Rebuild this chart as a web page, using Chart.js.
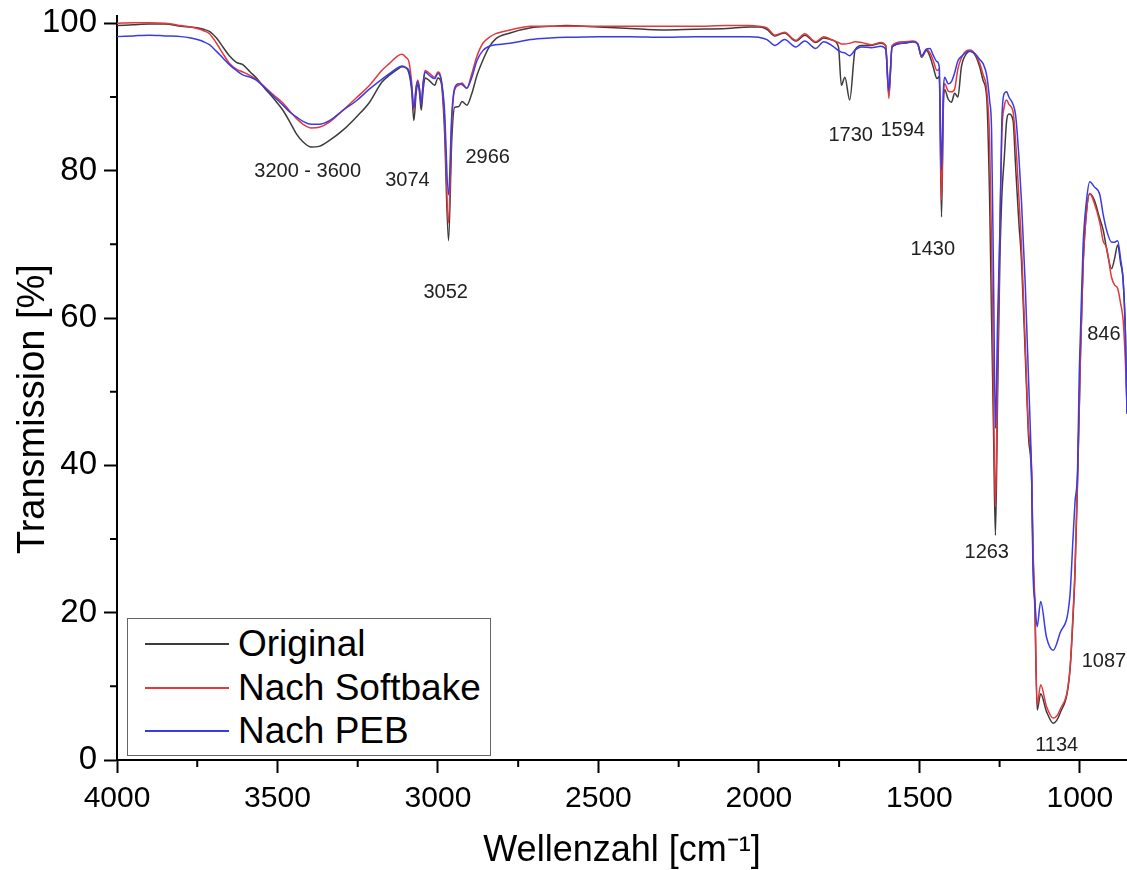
<!DOCTYPE html>
<html>
<head>
<meta charset="utf-8">
<script src="https://cdn.jsdelivr.net/npm/chart.js@4"></script>
<style>
html,body{margin:0;padding:0;background:#fff;}
#wrap{position:relative;width:1127px;height:870px;overflow:hidden;}
#legend{position:absolute;left:127px;top:618px;width:364px;height:138px;border:1px solid #666;box-sizing:border-box;background:#fff;font-family:'Liberation Sans',Arial,sans-serif;font-size:37px;color:#000;}
.lrow{position:absolute;left:0;width:100%;height:40px;}
.lline{position:absolute;left:17px;width:84px;top:19px;height:2px;}
.ltext{position:absolute;left:110px;top:0;line-height:40px;white-space:nowrap;}
</style>
</head>
<body>
<div id="wrap">
<canvas id="c" width="1127" height="870"></canvas>
<div id="legend"></div>
</div>
<script>
// ---- data (wavenumber grid, transmission in %) ----
const wavenumbers = [4000,3950,3900,3850,3800,3770,3750,3730,3712,3690,3670,3650,3628,3608,3585,3566,3540,3510,3483,3460,3441,3420,3395,3370,3338,3296,3254,3213,3175,3150,3125,3112,3100,3090,3082,3075,3068,3063,3058,3052,3046,3040,3026,3010,3000,2990,2980,2967,2957,2948,2935,2925,2910,2895,2878,2860,2840,2820,2775,2710,2650,2600,2500,2400,2300,2200,2100,2030,2000,1975,1950,1920,1885,1857,1823,1798,1770,1752,1743,1732,1717,1700,1680,1650,1620,1605,1595,1585,1550,1520,1505,1493,1478,1467,1457,1445,1438,1431,1425,1421,1410,1400,1390,1380,1369,1353,1342,1325,1312,1301,1290,1281,1275,1269,1263,1256,1249,1243,1235,1228,1221,1208,1200,1190,1182,1170,1160,1150,1146,1140,1133,1122,1104,1083,1062,1031,1021,1015,1007,1002,998,990,979,969,955,938,927,917,901,892,882,873,865,858,853];
const original = [99.7,99.8,99.9,99.9,99.6,99.5,99.4,99.2,98.9,98.0,96.8,95.6,94.7,94.4,93.4,92.6,91.2,89.7,88.2,86.5,85.0,83.9,83.2,83.3,84.1,85.5,87.3,89.3,92.0,93.0,93.8,94.1,94.0,93.2,91.0,86.8,90.5,91.7,90.8,88.2,91.0,92.6,92.2,91.6,92.6,92.0,86.0,70.5,84.1,88.6,88.7,89.4,88.9,90.4,93.0,95.0,96.8,97.9,98.7,99.4,99.6,99.7,99.5,99.3,99.1,99.2,99.3,99.5,99.5,99.2,98.3,98.7,97.6,98.4,97.4,98.0,97.7,96.8,91.6,92.7,89.6,96.4,97.0,97.0,97.3,97.0,90.3,96.8,97.3,97.5,97.2,95.4,96.3,95.5,94.1,92.5,92.8,73.7,89.0,91.0,89.7,89.3,90.5,90.0,94.1,95.9,96.2,95.6,94.1,92.2,89.8,76.0,60.0,45.0,30.5,50.0,68.0,76.5,82.0,86.8,87.7,86.8,80.5,73.0,68.0,55.0,44.0,38.0,28.0,20.5,6.8,9.0,6.6,5.0,6.3,12.0,19.5,25.5,38.0,47.0,55.0,67.0,74.5,76.9,76.0,73.5,71.9,69.5,66.7,68.0,69.9,67.5,65.1,58.0,47.0];
const softbake = [100.0,100.1,100.1,100.0,99.7,99.5,99.3,99.0,98.6,97.3,95.9,94.6,93.8,93.4,92.9,92.4,91.4,90.2,89.2,88.0,87.1,86.3,85.8,85.9,86.6,88.2,89.9,91.6,93.6,94.6,95.6,95.8,95.4,94.7,92.0,88.2,91.3,92.3,91.3,89.1,92.0,93.6,93.2,92.7,93.4,92.4,87.5,72.9,86.5,91.0,91.6,91.9,91.2,93.1,95.6,97.3,98.1,98.6,99.1,99.6,99.6,99.6,99.6,99.6,99.6,99.6,99.7,99.7,99.6,99.4,98.4,98.8,97.7,98.6,97.5,98.2,97.7,97.4,97.2,97.2,97.3,97.5,97.4,97.1,97.4,97.0,89.8,97.0,97.5,97.6,97.2,95.5,96.5,96.0,95.0,93.6,93.8,76.0,90.0,91.8,90.8,90.7,91.1,93.8,95.3,96.3,96.4,95.8,94.6,93.0,90.9,84.0,70.0,50.0,34.4,54.0,72.0,85.0,88.8,89.6,89.0,88.0,84.0,76.5,70.0,56.5,45.0,39.3,29.0,21.3,7.5,10.2,7.3,5.7,6.8,12.2,20.0,25.8,38.5,47.5,55.0,67.0,74.5,76.9,75.6,73.0,70.4,69.6,65.5,64.5,64.0,62.0,59.7,54.0,48.0];
const peb = [98.2,98.3,98.4,98.3,98.2,98.0,97.8,97.5,97.1,96.2,95.3,94.4,93.6,93.0,92.7,92.3,91.3,90.0,88.9,87.9,87.3,86.7,86.3,86.3,86.8,88.2,89.5,91.1,92.4,93.2,94.0,94.2,94.0,93.5,91.5,88.5,91.3,92.1,91.2,89.1,91.8,93.4,92.9,92.5,93.2,92.4,88.5,76.7,87.5,91.2,91.8,91.7,91.2,92.6,95.0,96.3,96.9,97.1,97.3,97.8,98.0,98.1,98.2,98.2,98.1,98.2,98.2,98.2,98.1,97.8,97.0,97.8,96.8,97.6,96.6,97.5,96.9,96.3,96.1,96.0,95.6,96.4,96.8,96.7,96.9,96.5,90.9,96.8,97.3,97.5,97.2,95.6,96.5,96.6,95.7,94.8,94.1,80.1,91.0,92.7,91.8,92.1,93.3,94.9,95.5,96.1,96.2,95.8,95.1,94.5,92.9,89.5,85.5,66.0,45.0,60.0,72.0,86.8,90.5,90.7,90.0,89.0,87.5,82.0,76.0,64.5,52.0,38.0,25.8,21.5,18.1,21.5,16.7,14.9,17.2,22.2,30.3,35.0,39.5,52.0,58.0,69.6,76.0,78.5,77.8,76.8,74.0,72.0,70.3,70.3,70.5,68.0,65.1,58.0,47.0];

const seriesNames = ['Original','Nach Softbake','Nach PEB'];
const seriesColors = ['#3c3c3c','#e3383c','#3a3ae6'];

const xMajorTicks = [4000,3500,3000,2500,2000,1500,1000];
const xMinorTicks = [3750,3250,2750,2250,1750,1250];
const yMajorTicks = [0,20,40,60,80,100];
const yMinorTicks = [10,30,50,70,90];

const annoText = ['3200 - 3600','3074','2966','3052','1730','1594','1430','1263','846','1087','1134'];
const annoWn   = [3406,3095,2845,2976,1714,1552,1458,1290,925,925,1072];
const annoT    = [79.9,78.7,81.8,63.5,84.8,85.5,69.3,28.2,57.7,13.4,2.0];

// ---- legend (HTML) ----
const leg = document.getElementById('legend');
seriesNames.forEach((n,i)=>{
  const r = document.createElement('div');
  r.className='lrow'; r.style.top = Math.round(5 + i*43.5) + 'px';
  const l = document.createElement('div'); l.className='lline'; l.style.backgroundColor = seriesColors[i];
  const t = document.createElement('div'); t.className='ltext'; t.textContent = n;
  r.appendChild(l); r.appendChild(t); leg.appendChild(r);
});

const toPts = arr => wavenumbers.map((w,i)=>({x:w,y:arr[i]}));
const seriesData = [original, softbake, peb];

const minorTicksPlugin = {
  id:'minorTicks',
  afterDraw(chart){
    const ctx = chart.ctx, xs = chart.scales.x, ys = chart.scales.y;
    ctx.save();
    ctx.strokeStyle='#000'; ctx.lineWidth=2;
    ctx.beginPath();
    xMinorTicks.forEach(v=>{const p=xs.getPixelForValue(v); ctx.moveTo(p, ys.bottom); ctx.lineTo(p, ys.bottom+7);});
    yMinorTicks.forEach(v=>{const p=ys.getPixelForValue(v); ctx.moveTo(xs.left-7, p); ctx.lineTo(xs.left, p);});
    ctx.stroke();
    // peak annotations
    ctx.fillStyle='#222';
    ctx.font='20px "Liberation Sans", Arial, sans-serif';
    ctx.textAlign='center'; ctx.textBaseline='middle';
    annoText.forEach((t,i)=>{ctx.fillText(t, xs.getPixelForValue(annoWn[i]), ys.getPixelForValue(annoT[i]));});
    ctx.restore();
  }
};

new Chart(document.getElementById('c'), {
  type:'line',
  data:{
    datasets: seriesNames.map((n,i)=>({
      label:n,
      data: toPts(seriesData[i]),
      borderColor: seriesColors[i],
      borderWidth: 1.5,
      pointRadius: 0,
      fill:false,
      cubicInterpolationMode:'monotone',
      order: 2-i,
      clip: false
    }))
  },
  options:{
    responsive:false,
    animation:false,
    layout:{padding:{top:16,left:0,right:0,bottom:0}},
    plugins:{legend:{display:false}, tooltip:{enabled:false}},
    scales:{
      x:{
        type:'linear', reverse:true, min:853, max:4000,
        afterBuildTicks: s => { s.ticks = xMajorTicks.map(v=>({value:v})); },
        afterFit: s => { s.height = 110; s.paddingLeft=0; s.paddingRight=0; },
        ticks:{ color:'#000', padding:8, maxRotation:0, autoSkip:false,
          font:{family:'"Liberation Sans", Arial, sans-serif', size:30},
          callback: v => String(v) },
        grid:{ drawOnChartArea:false, drawTicks:true, tickLength:13, tickWidth:2, tickColor:'#000' },
        border:{ display:true, color:'#000', width:2 },
        title:{ display:true, text:'Wellenzahl [cm\u207B\u00B9]', color:'#000',
          font:{family:'"Liberation Sans", Arial, sans-serif', size:36, lineHeight:1}, padding:{top:0,bottom:1} }
      },
      y:{
        type:'linear', min:0, max:101,
        afterBuildTicks: s => { s.ticks = yMajorTicks.map(v=>({value:v})); },
        afterFit: s => { s.width = 117; s.paddingTop=0; s.paddingBottom=0; },
        ticks:{ color:'#000', padding:7, autoSkip:false,
          font:{family:'"Liberation Sans", Arial, sans-serif', size:33},
          callback: v => String(v) },
        grid:{ drawOnChartArea:false, drawTicks:true, tickLength:13, tickWidth:2, tickColor:'#000' },
        border:{ display:true, color:'#000', width:2 },
        title:{ display:true, text:'Transmission [%]    ', color:'#000',
          font:{family:'"Liberation Sans", Arial, sans-serif', size:38, lineHeight:1}, padding:{top:15,bottom:0} }
      }
    }
  },
  plugins:[minorTicksPlugin]
});
</script>
</body>
</html>
